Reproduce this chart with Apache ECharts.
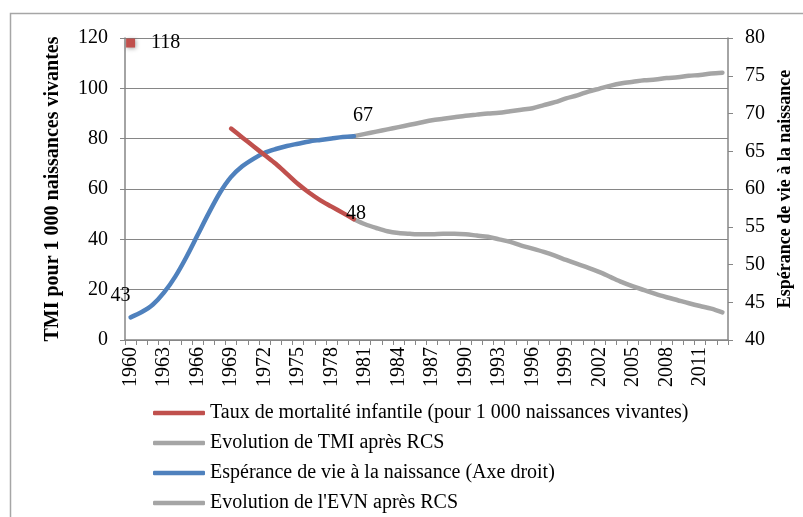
<!DOCTYPE html>
<html>
<head>
<meta charset="utf-8">
<script src="https://cdn.jsdelivr.net/npm/echarts@6/dist/echarts.min.js"></script>
<style>
  html, body { margin: 0; padding: 0; background: #fff; }
  #main { width: 803px; height: 517px; }
</style>
</head>
<body>
<div id="main"></div>
<script>
// years on the category axis
var firstYear = 1960, lastYear = 2013;
var years = [];
for (var y = firstYear; y <= lastYear; y++) years.push(String(y));

// TMI (left axis)
var tmi1960 = 118;
var tmiBeforeStart = 1969;
var tmiBefore = [84, 80.5, 77, 73.5, 70, 66, 62, 58.5, 55.5, 53, 50.5, 48]; // 1969-1980
var afterStart = 1980;
var tmiAfter = [48, 46, 44.5, 43.2, 42.5, 42.2, 42, 42, 42.2, 42.2, 42, 41.5, 41,
  40, 39, 37.5, 36.3, 35, 33.5, 31.8, 30.2, 28.7, 27, 25, 23, 21.3, 19.8, 18.3,
  17, 15.8, 14.6, 13.5, 12.5, 11]; // 1980-2013

// espérance de vie (right axis)
var evnBefore = [43, 43.7, 44.7, 46.3, 48.4, 51, 53.9, 56.8, 59.5, 61.6, 63, 64,
  64.8, 65.3, 65.7, 66, 66.3, 66.5, 66.7, 66.9, 67]; // 1960-1980
var evnAfter = [67, 67.3, 67.6, 67.9, 68.2, 68.5, 68.8, 69.1, 69.3, 69.5, 69.7,
  69.85, 70, 70.1, 70.3, 70.5, 70.7, 71.1, 71.5, 72, 72.4, 72.9, 73.3, 73.7, 74,
  74.2, 74.4, 74.5, 74.7, 74.8, 75, 75.1, 75.3, 75.4]; // 1980-2013

var names = [
  'Taux de mortalité infantile (pour 1 000 naissances vivantes)',
  'Evolution de TMI après RCS',
  "Espérance de vie à la naissance (Axe droit)",
  "Evolution de l'EVN après RCS"
];

var font = 'Liberation Serif';
var axisGray = '#868686';

// put a run of values at its place on the year axis
function place(values, start) {
  var out = years.map(function () { return null; });
  values.forEach(function (v, i) { out[start - firstYear + i] = v; });
  return out;
}

function labelAt(arr, year, label) {
  var i = year - firstYear;
  arr[i] = Object.assign({ value: arr[i] }, label);
}

var lblStyle = { show: true, fontFamily: font, fontSize: 20, color: '#000' };

var redData = place(tmiBefore, tmiBeforeStart);
redData[0] = {
  value: tmi1960,
  symbol: 'rect', symbolSize: 9,
  itemStyle: { color: '#c0504d', shadowBlur: 4, shadowColor: 'rgba(0,0,0,0.35)', shadowOffsetX: 1, shadowOffsetY: 1 },
  label: Object.assign({ position: 'right', distance: 16 }, lblStyle)
};
labelAt(redData, 1980, { label: Object.assign({ position: 'inside', offset: [2, -5] }, lblStyle) });

var blueData = place(evnBefore, firstYear);
labelAt(blueData, 1960, { label: Object.assign({ position: 'top', offset: [-10, -6] }, lblStyle) });
labelAt(blueData, 1980, { label: Object.assign({ position: 'top', offset: [9, -5] }, lblStyle) });

function lineSeries(name, color, data, axis, z) {
  return {
    name: name,
    type: 'line',
    yAxisIndex: axis,
    data: data,
    smooth: 0.3,
    connectNulls: false,
    showSymbol: true,
    showAllSymbol: true,
    symbol: 'circle',
    symbolSize: 1,
    color: color,
    itemStyle: { color: color },
    lineStyle: { color: color, width: 4.5, cap: 'round' },
    emphasis: { disabled: true },
    z: z,
    animation: false
  };
}

var chart = echarts.init(document.getElementById('main'));
chart.setOption({
  backgroundColor: '#fff',
  textStyle: { fontFamily: font },
  graphic: [{
    type: 'rect',
    shape: { x: 10.5, y: 13.5, width: 820, height: 540 },
    style: { fill: 'none', stroke: '#a6a6a6', lineWidth: 1.5 },
    silent: true
  }],
  grid: { left: 125, right: 75, top: 38, bottom: 177, containLabel: false, outerBoundsMode: 'none' },
  legend: {
    orient: 'vertical',
    left: 153,
    top: 402,
    padding: 0,
    height: 115,
    itemWidth: 52,
    itemHeight: 4.5,
    itemGap: 8,
    icon: 'roundRect',
    data: names,
    textStyle: { fontFamily: font, fontSize: 20, color: '#000', lineHeight: 22 }
  },
  xAxis: {
    type: 'category',
    data: years,
    boundaryGap: true,
    axisLine: { lineStyle: { color: axisGray, width: 1.5 } },
    axisTick: { show: true, interval: 0, length: 5, lineStyle: { color: axisGray } },
    axisLabel: { interval: 2, rotate: 90, margin: 7, fontFamily: font, fontSize: 20, color: '#000' }
  },
  yAxis: [{
    type: 'value',
    min: 0, max: 120, interval: 20,
    name: 'TMI pour 1 000 naissances vivantes',
    nameLocation: 'middle',
    nameRotate: 90,
    nameGap: 62,
    nameTextStyle: { fontFamily: font, fontSize: 20, fontWeight: 'bold', color: '#000' },
    axisLine: { show: true, lineStyle: { color: axisGray, width: 1.5 } },
    axisTick: { show: true, length: 5, lineStyle: { color: axisGray } },
    axisLabel: { margin: 17, fontFamily: font, fontSize: 20, color: '#000' },
    splitLine: { show: true, lineStyle: { color: axisGray, width: 1.2 } }
  }, {
    type: 'value',
    min: 40, max: 80, interval: 5,
    position: 'right',
    name: 'Espérance de vie à la naissance',
    nameLocation: 'middle',
    nameRotate: 90,
    nameGap: 47,
    nameTextStyle: { fontFamily: font, fontSize: 18, fontWeight: 'bold', color: '#000' },
    axisLine: { show: true, lineStyle: { color: axisGray, width: 1.5 } },
    axisTick: { show: true, length: 5, lineStyle: { color: axisGray } },
    axisLabel: { margin: 17, fontFamily: font, fontSize: 20, color: '#000' },
    splitLine: { show: false }
  }],
  series: [
    lineSeries(names[0], '#c0504d', redData, 0, 4),
    lineSeries(names[1], '#a5a5a5', place(tmiAfter, afterStart), 0, 2),
    lineSeries(names[2], '#4f81bd', blueData, 1, 3),
    lineSeries(names[3], '#a5a5a5', place(evnAfter, afterStart), 1, 2)
  ]
});
</script>
</body>
</html>
